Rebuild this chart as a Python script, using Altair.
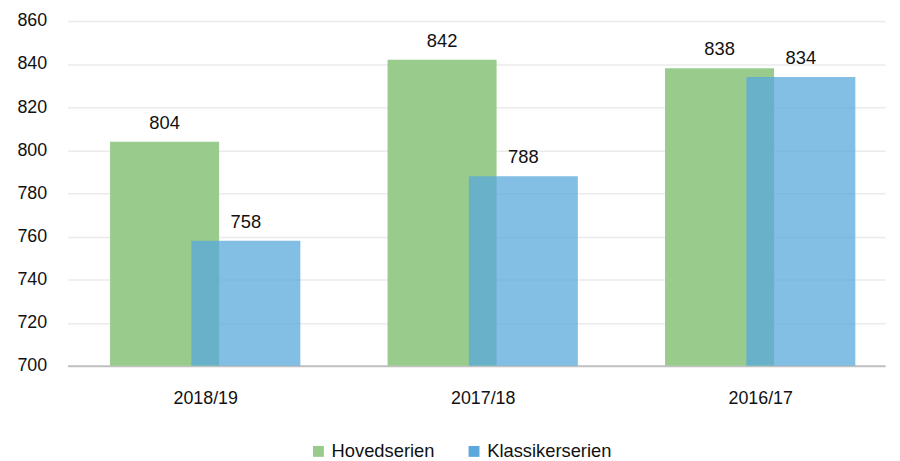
import altair as alt
import pandas as pd

seasons = ["2018/19", "2017/18", "2016/17"]
hoved = [804, 842, 838]
klassiker = [758, 788, 834]
series_names = ["Hovedserien", "Klassikerserien"]
y_ticks = [700, 720, 740, 760, 780, 800, 820, 840, 860]

rows = []
for i, (s, h, k) in enumerate(zip(seasons, hoved, klassiker)):
    rows.append({"idx": i, "season": s, "series": series_names[0], "value": h})
    rows.append({"idx": i, "season": s, "series": series_names[1], "value": k})
df = pd.DataFrame(rows)

FONT = "Liberation Sans"
OFF = 41
BW = 110
W = 825
STEP = 280.0
FIRST = 139.0
d0 = -FIRST / STEP
d1 = d0 + W / STEP

label_expr = "[" + ",".join("'" + s + "'" for s in seasons) + "][datum.value]"

x = alt.X("idx:Q", title=None,
          axis=alt.Axis(values=list(range(len(seasons))), labelExpr=label_expr,
                        labelAngle=0, labelFontSize=18, labelFont=FONT, labelColor="#111",
                        labelPadding=24, ticks=False, domainColor="#c0c0c0", domainWidth=2,
                        grid=False),
          scale=alt.Scale(domain=[d0, d1], nice=False, zero=False, padding=0))
y = alt.Y("value:Q", title=None,
          scale=alt.Scale(domain=[700, 860], nice=False, zero=False, clamp=True, padding=0),
          axis=alt.Axis(values=y_ticks, labelFontSize=18, labelFont=FONT, labelColor="#111",
                        labelPadding=21, ticks=False, domain=False, gridColor="#ebebeb",
                        gridWidth=1.5))
color = alt.Color("series:N", scale=alt.Scale(domain=series_names, range=["#99cc8c", "#5aa8dc"]),
                  legend=alt.Legend(title=None, orient="none", legendX=244, legendY=425,
                                    direction="horizontal", labelFontSize=18.5, labelFont=FONT,
                                    labelColor="#111", symbolType="square", symbolSize=121,
                                    symbolStrokeWidth=0, columnPadding=30, labelOffset=4,
                                    symbolOpacity=1))

base = alt.Chart(df)

g = base.transform_filter(alt.datum.series == series_names[0])
b = base.transform_filter(alt.datum.series == series_names[1])

bar_g = g.mark_bar(width=BW, xOffset=-OFF, opacity=1).encode(
    x=x, y=y, y2=alt.datum(700), color=color)
bar_b = b.mark_bar(width=BW, xOffset=OFF, opacity=0.75).encode(
    x=x, y=y, y2=alt.datum(700), color=color)
txt_g = g.mark_text(xOffset=-OFF, dy=-13, baseline="alphabetic", fontSize=18.5, font=FONT,
                    color="#111").encode(x=x, y=y, text="value:Q")
txt_b = b.mark_text(xOffset=OFF, dy=-13, baseline="alphabetic", fontSize=18.5, font=FONT,
                    color="#111").encode(x=x, y=y, text="value:Q")

chart = alt.layer(bar_g, bar_b, txt_g, txt_b).properties(
    width=W, height=348,
    autosize=alt.AutoSizeParams(type="none"),
    padding={"left": 60, "top": 11, "right": 7, "bottom": 94},
).configure_view(stroke=None)

chart.save("out.html", embed_options={"renderer": "svg", "actions": False})
